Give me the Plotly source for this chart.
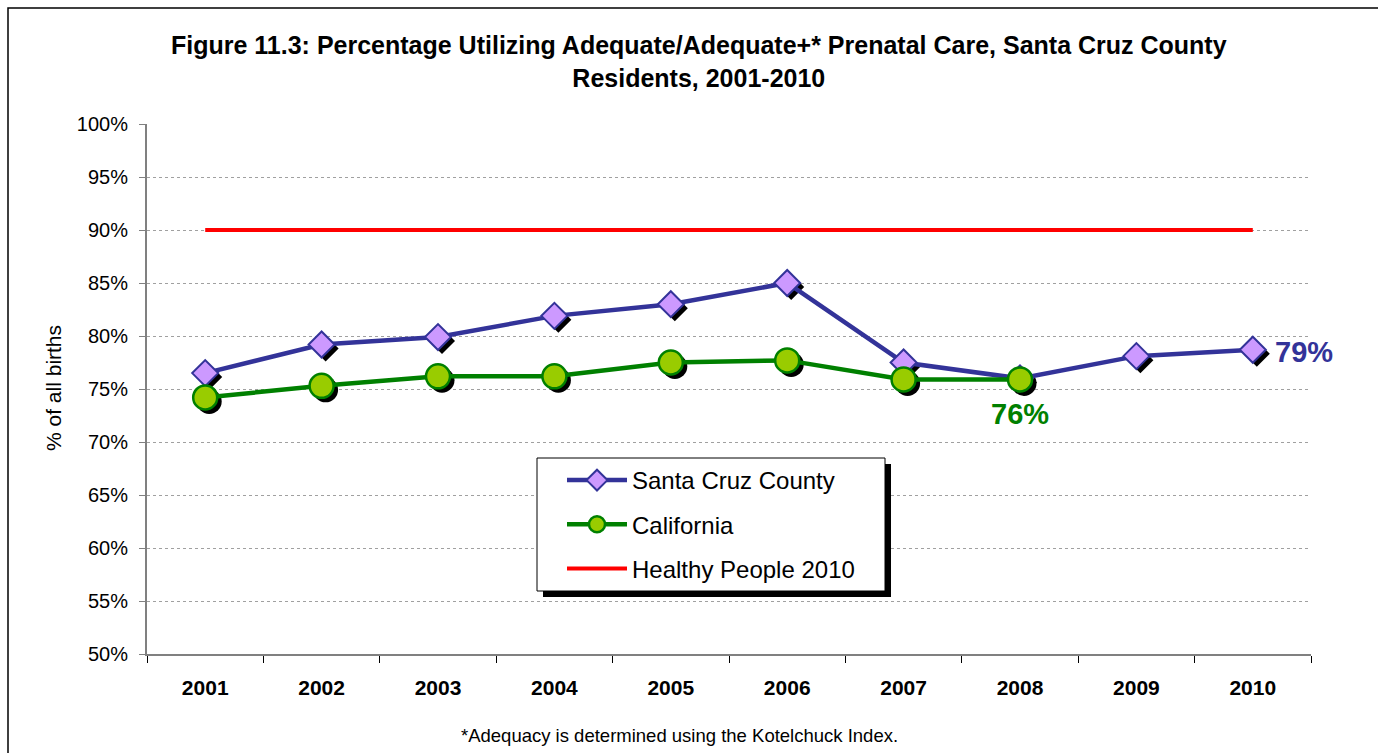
import plotly.graph_objects as go

years = [2001, 2002, 2003, 2004, 2005, 2006, 2007, 2008, 2009, 2010]
santa_cruz = [76.5, 79.2, 79.9, 81.9, 83.0, 85.0, 77.5, 76.0, 78.1, 78.7]
ca_years = [2001, 2002, 2003, 2004, 2005, 2006, 2007, 2008]
california = [74.2, 75.3, 76.2, 76.2, 77.5, 77.7, 75.9, 75.9]
hp_years = [2001, 2010]
healthy_people = [90, 90]
y_ticks = [50, 55, 60, 65, 70, 75, 80, 85, 90, 95, 100]

W, H = 1378, 753
L, R, T, B = 147, 1311, 124, 654
SH = 4  # shadow offset px

def px_x(v):
    return v / W

def px_y(v):
    return (H - v) / H

dom_x = [px_x(L), px_x(R)]
dom_y = [px_y(B), px_y(T)]
sdom_x = [px_x(L + SH), px_x(R + SH)]
sdom_y = [px_y(B + SH), px_y(T + SH)]

BLUE = "#333399"
LILAC = "#CC99FF"
GREEN = "#008000"
LIME = "#99CC00"
RED = "#FF0000"
FONT = "Liberation Sans, Arial, sans-serif"

fig = go.Figure()

fig.add_trace(go.Scatter(x=years, y=santa_cruz, mode="markers", marker=dict(opacity=0),
                         showlegend=False, hoverinfo="skip", xaxis="x", yaxis="y"))

# shadows
fig.add_trace(go.Scatter(x=years, y=santa_cruz, mode="markers",
                         marker=dict(symbol="diamond", size=20, color="black"),
                         showlegend=False, hoverinfo="skip", xaxis="x2", yaxis="y2"))
fig.add_trace(go.Scatter(x=ca_years, y=california, mode="markers",
                         marker=dict(symbol="circle", size=25, color="black"),
                         showlegend=False, hoverinfo="skip", xaxis="x2", yaxis="y2"))

# data
fig.add_trace(go.Scatter(x=years, y=santa_cruz, mode="lines+markers", name="Santa Cruz County",
                         legendgroup="a",
                         line=dict(color=BLUE, width=4.5),
                         marker=dict(symbol="diamond", size=20, color=LILAC,
                                     line=dict(color=BLUE, width=2)),
                         xaxis="x3", yaxis="y3"))
fig.add_trace(go.Scatter(x=ca_years, y=california, mode="lines+markers", name="California",
                         legendgroup="b",
                         line=dict(color=GREEN, width=4.5),
                         marker=dict(symbol="circle", size=24, color=LIME,
                                     line=dict(color=GREEN, width=2.5)),
                         xaxis="x3", yaxis="y3"))
fig.add_trace(go.Scatter(x=hp_years, y=healthy_people, mode="lines", name="Healthy People 2010",
                         legendgroup="c",
                         line=dict(color=RED, width=4),
                         xaxis="x3", yaxis="y3"))

xr = [years[0] - 0.5, years[-1] + 0.5]
yr = [y_ticks[0], y_ticks[-1]]

fig.update_layout(
    width=W, height=H, autosize=False,
    margin=dict(l=0, r=0, t=0, b=0, autoexpand=False),
    paper_bgcolor="white", plot_bgcolor="rgba(0,0,0,0)",
    font=dict(family=FONT, color="black"),
    xaxis=dict(domain=dom_x, range=xr, anchor="y", showgrid=False, zeroline=False,
               tickmode="array", tickvals=years, ticktext=[str(y) for y in years],
               ticks="", showline=True, linecolor="#808080", linewidth=2,
               tickfont=dict(size=21, family=FONT, color="black", weight="bold"),
               ticklabelstandoff=14,
               minor=dict(ticks="outside", tickmode="linear", tick0=years[0] - 0.5, dtick=1,
                          ticklen=7, tickcolor="black", tickwidth=1, showgrid=False)),
    yaxis=dict(domain=dom_y, range=yr, anchor="x", tickmode="array", tickvals=y_ticks,
               ticktext=[f"{v}%" for v in y_ticks], showgrid=True, gridcolor="#A0A0A0",
               griddash="dot", gridwidth=1, zeroline=False, showline=True,
               linecolor="#808080", linewidth=2, ticks="outside", ticklen=6,
               tickcolor="#808080", tickfont=dict(size=20, family=FONT, color="black"),
               ticklabelstandoff=7),
    xaxis2=dict(domain=sdom_x, range=xr, anchor="y2", visible=False),
    yaxis2=dict(domain=sdom_y, range=yr, anchor="x2", visible=False),
    xaxis3=dict(domain=dom_x, range=xr, anchor="y3", visible=False),
    yaxis3=dict(domain=dom_y, range=yr, anchor="x3", visible=False),
    legend=dict(x=px_x(562), y=px_y(458), xanchor="left", yanchor="top",
                bgcolor="rgba(0,0,0,0)", borderwidth=0,
                font=dict(size=24, family=FONT, color="black"),
                tracegroupgap=10, itemwidth=60,
                traceorder="grouped"),
    showlegend=True,
)

# legend shadow and box
fig.add_shape(type="rect", xref="paper", yref="paper",
              x0=px_x(543), x1=px_x(891), y0=px_y(597), y1=px_y(464),
              fillcolor="black", line=dict(width=0), layer="above")
fig.add_shape(type="rect", xref="paper", yref="paper",
              x0=px_x(537), x1=px_x(885), y0=px_y(591), y1=px_y(458),
              fillcolor="white", line=dict(color="black", width=1), layer="above")

# outer frame
fig.add_shape(type="rect", xref="paper", yref="paper",
              x0=px_x(8), x1=1.02, y0=-0.02, y1=px_y(8),
              line=dict(color="black", width=1.5), fillcolor="rgba(0,0,0,0)")

# title
fig.add_annotation(xref="paper", yref="paper", x=px_x(699), y=px_y(61),
                   text="<b>Figure 11.3: Percentage Utilizing Adequate/Adequate+* Prenatal Care, Santa Cruz County<br>Residents, 2001-2010</b>",
                   showarrow=False, font=dict(size=25, family=FONT, color="black"),
                   align="center", xanchor="center", yanchor="middle")

# y axis title
fig.add_annotation(xref="paper", yref="paper", x=px_x(53), y=px_y(388),
                   text="% of all births", textangle=-90, showarrow=False,
                   font=dict(size=21, family=FONT, color="black"),
                   xanchor="center", yanchor="middle")

# end labels
fig.add_annotation(x=years[-1], y=santa_cruz[-1], xref="x3", yref="y3",
                   text=f"<b>{round(santa_cruz[-1])}%</b>", showarrow=False,
                   xanchor="left", xshift=20, yshift=-2, font=dict(size=29, family=FONT, color=BLUE))
fig.add_annotation(x=ca_years[-1], y=california[-1], xref="x3", yref="y3",
                   text=f"<b>{round(california[-1])}%</b>", showarrow=False,
                   yshift=-35, font=dict(size=29, family=FONT, color=GREEN))

# footnote
fig.add_annotation(xref="paper", yref="paper", x=px_x(679), y=px_y(735),
                   text="*Adequacy is determined using the Kotelchuck Index.", showarrow=False,
                   font=dict(size=18.5, family=FONT, color="black"), xanchor="center", yanchor="middle")

fig.write_html("out.html", config={"displayModeBar": False},
               post_script="document.body.style.margin='0px';document.body.style.padding='0px';")
